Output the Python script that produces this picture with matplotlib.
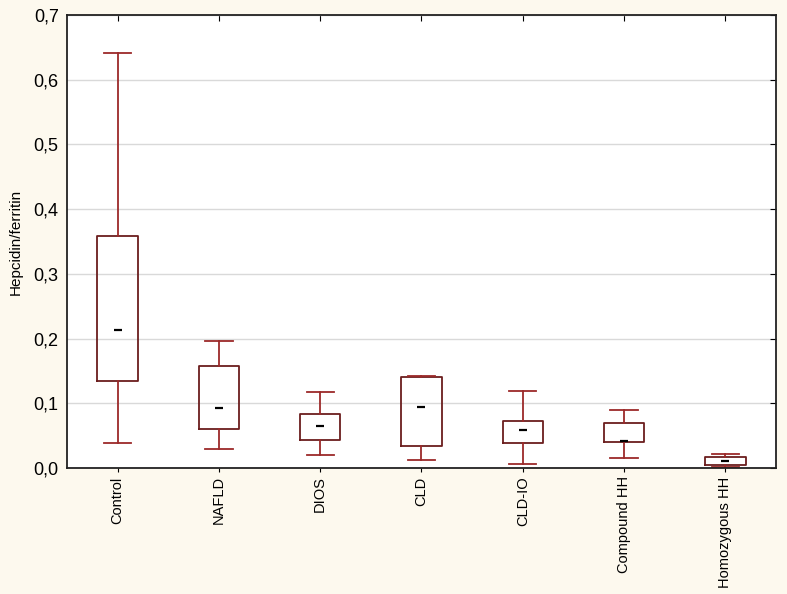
import matplotlib
matplotlib.use("Agg")
import matplotlib.pyplot as plt
from matplotlib.ticker import FuncFormatter, MultipleLocator

groups = ["Control", "NAFLD", "DIOS", "CLD", "CLD-IO", "Compound HH", "Homozygous HH"]
whis_lo = [0.038, 0.029, 0.020, 0.012, 0.006, 0.016, 0.002]
q1 = [0.134, 0.060, 0.044, 0.034, 0.038, 0.040, 0.004]
median = [0.213, 0.093, 0.065, 0.095, 0.058, 0.042, 0.011]
q3 = [0.358, 0.157, 0.083, 0.141, 0.073, 0.070, 0.017]
whis_hi = [0.641, 0.196, 0.117, 0.142, 0.119, 0.089, 0.022]

box_col = "#6b1e1e"
whisk_col = "#9c2a2a"
fam = ["Liberation Sans", "DejaVu Sans"]

stats = []
for name, lo, a, m, b, hi in zip(groups, whis_lo, q1, median, q3, whis_hi):
    stats.append(dict(label=name, whislo=lo, q1=a, med=m, q3=b, whishi=hi, fliers=[]))

fig = plt.figure(figsize=(7.87, 5.94), dpi=100, facecolor="#fdf9ee")
ax = fig.add_axes([0.0851, 0.2121, 0.9009, 0.7626])
ax.set_facecolor("white")

pos = list(range(len(groups)))
ax.bxp(stats, positions=pos, widths=0.4, showfliers=False,
       boxprops=dict(color=box_col, linewidth=1.3),
       whiskerprops=dict(color=whisk_col, linewidth=1.3),
       capprops=dict(color=whisk_col, linewidth=1.3),
       capwidths=0.27,
       medianprops=dict(visible=False))
# median shown as a short black dash
ax.scatter(pos, median, marker="_", s=40, color="black", linewidths=1.6, zorder=4)

ax.set_xlim(-0.5, len(groups) - 0.5)
ax.set_ylim(0, 0.7)
ax.yaxis.set_major_locator(MultipleLocator(0.1))
ax.yaxis.set_major_formatter(FuncFormatter(lambda v, _: f"{v:.1f}".replace(".", ",")))
ax.grid(axis="y", color="#d9d9d9", linewidth=1.0)
ax.set_axisbelow(True)

ax.set_xticks(pos)
ax.set_xticklabels(groups, rotation=90, fontsize=10.5, family=fam)
ax.tick_params(axis="x", direction="out", length=3, top=True, pad=3)
ax.tick_params(axis="y", direction="out", length=0, right=True, labelsize=13, pad=6)
for t in ax.get_yticklabels():
    t.set_family(fam)
# top/right ticks point inward
for tk in ax.xaxis.get_major_ticks():
    tk.tick2line.set_marker(3)
    tk.tick2line.set_markersize(4)
for tk in ax.yaxis.get_major_ticks():
    tk.tick2line.set_marker(0)
    tk.tick2line.set_markersize(4)

ax.set_ylabel("Hepcidin/ferritin", fontsize=11, family=fam, labelpad=8)
for s in ax.spines.values():
    s.set_color("#222222")
    s.set_linewidth(1.3)

fig.savefig("out.png", dpi=100, facecolor=fig.get_facecolor())
